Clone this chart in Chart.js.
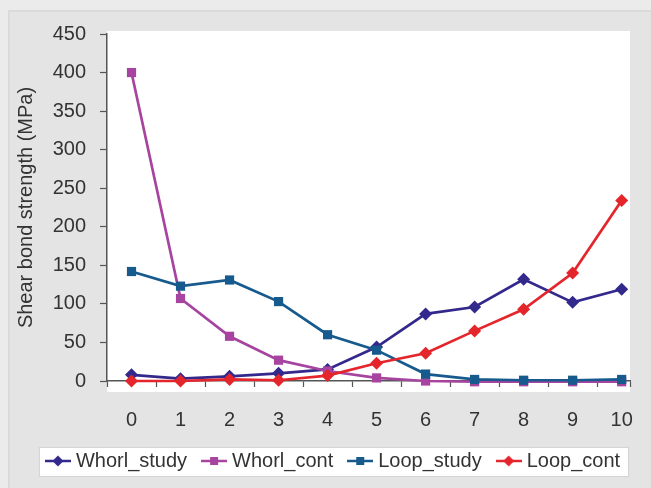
<!DOCTYPE html>
<html>
<head>
<meta charset="utf-8">
<script src="https://cdn.jsdelivr.net/npm/chart.js@4.4.0/dist/chart.umd.min.js"></script>
<style>
  html, body { margin: 0; padding: 0; background: #e6e6e6; }
  #wrap { width: 651px; height: 488px; }
</style>
</head>
<body>
<div id="wrap"><canvas id="chart" width="651" height="488"></canvas></div>
<script>
// x categories (0..10) and series values
const xValues = [0, 1, 2, 3, 4, 5, 6, 7, 8, 9, 10];
const whorlStudy = [8, 3, 6, 10, 15, 44, 87, 96, 132, 102, 119];
const whorlCont = [400, 107, 58, 27, 13, 4, 0, -1, -1, -1, -1];
const loopStudy = [142, 123, 131, 103, 60, 40, 9, 2, 1, 1, 2];
const loopCont = [0, 0, 2, 1, 7, 23, 36, 65, 93, 140, 234];

const seriesNames = ['Whorl_study', 'Whorl_cont', 'Loop_study', 'Loop_cont'];
const seriesColors = ['#33298c', '#a6449f', '#165a8e', '#e4262c'];
const seriesShapes = ['rectRot', 'rect', 'rect', 'rectRot'];
const yTicks = [0, 50, 100, 150, 200, 250, 300, 350, 400, 450];

const FONT = 'Arial, "Liberation Sans", Helvetica, sans-serif';

// little line + marker icons for the legend
function makeIcon(color, shape) {
    const c = document.createElement('canvas');
    c.width = 26;
    c.height = 14;
    const g = c.getContext('2d');
    g.strokeStyle = color;
    g.lineWidth = 2.5;
    g.beginPath();
    g.moveTo(0, 7);
    g.lineTo(26, 7);
    g.stroke();
    g.fillStyle = color;
    g.beginPath();
    if (shape === 'rect') {
        g.rect(9, 3, 8, 8);
    } else {
        g.moveTo(13, 1.5);
        g.lineTo(18.5, 7);
        g.lineTo(13, 12.5);
        g.lineTo(7.5, 7);
        g.closePath();
    }
    g.fill();
    return c;
}
const legendIcons = seriesColors.map((c, i) => makeIcon(c, seriesShapes[i]));

function toPoints(values) {
    return xValues.map((x, i) => ({ x: x, y: values[i] }));
}

const allSeries = [whorlStudy, whorlCont, loopStudy, loopCont];

// background panel, white plot area and white legend box
const backdrop = {
    id: 'backdrop',
    afterLayout(chart) {
        chart.legend.left += 20;
        chart.legend.right += 20;
    },
    beforeDraw(chart) {
        const ctx = chart.ctx;
        const a = chart.chartArea;
        ctx.save();
        ctx.fillStyle = '#ebebeb';
        ctx.fillRect(0, 0, chart.width, chart.height);
        ctx.fillStyle = '#e4e4e4';
        ctx.fillRect(8, 10, chart.width - 8, chart.height - 10);
        ctx.strokeStyle = '#dadada';
        ctx.lineWidth = 2;
        ctx.strokeRect(9, 11, chart.width, chart.height);

        ctx.fillStyle = '#ffffff';
        ctx.fillRect(a.left, a.top - 3, a.right - a.left, a.bottom - a.top + 14);

        const hb = chart.legend.legendHitBoxes;
        if (hb && hb.length) {
            const first = hb[0], last = hb[hb.length - 1];
            const x0 = first.left - 11;
            const x1 = last.left + last.width + 8;
            const y0 = first.top - 4;
            const y1 = first.top + 25;
            ctx.fillStyle = '#ffffff';
            ctx.fillRect(x0, y0, x1 - x0, y1 - y0);
            ctx.strokeStyle = '#d4d4d4';
            ctx.lineWidth = 1;
            ctx.strokeRect(x0 + 0.5, y0 + 0.5, x1 - x0, y1 - y0);
        }
        ctx.restore();
    }
};

new Chart(document.getElementById('chart'), {
    type: 'line',
    data: {
        datasets: allSeries.map((vals, i) => ({
            label: seriesNames[i],
            data: toPoints(vals),
            borderColor: seriesColors[i],
            backgroundColor: seriesColors[i],
            borderWidth: 2.7,
            pointStyle: seriesShapes[i],
            pointRadius: 6.5,
            pointBorderWidth: 0,
            pointHoverRadius: 6.5,
            tension: 0,
            clip: false,
            order: allSeries.length - i
        }))
    },
    options: {
        responsive: false,
        animation: false,
        layout: { padding: { top: 34, right: 21, bottom: 7, left: 0 } },
        plugins: {
            tooltip: { enabled: false },
            legend: {
                position: 'bottom',
                labels: {
                    usePointStyle: true,
                    pointStyleWidth: 16,
                    padding: 19,
                    color: '#333333',
                    font: { family: FONT, size: 20 },
                    sort: (a, b) => a.datasetIndex - b.datasetIndex,
                    generateLabels(chart) {
                        const items = Chart.defaults.plugins.legend.labels.generateLabels(chart);
                        items.forEach(it => { it.pointStyle = legendIcons[it.datasetIndex]; });
                        return items;
                    }
                }
            }
        },
        scales: {
            x: {
                type: 'linear',
                min: -0.5,
                max: 10.17,
                afterBuildTicks(scale) {
                    const t = [];
                    xValues.forEach(v => { t.push({ value: v - 0.5 }); t.push({ value: v }); });
                    t.push({ value: 10.17 });
                    scale.ticks = t;
                },
                afterFit(scale) { scale.height = 51; },
                border: { display: true, color: '#555555', width: 1.5 },
                grid: {
                    drawOnChartArea: false,
                    drawTicks: true,
                    tickLength: 6,
                    tickWidth: 1.2,
                    tickColor: ctx => (Number.isInteger(ctx.tick && ctx.tick.value) ? 'rgba(0,0,0,0)' : '#555555')
                },
                ticks: {
                    autoSkip: false,
                    maxRotation: 0,
                    padding: 21,
                    color: '#333333',
                    font: { family: FONT, size: 20 },
                    callback: v => (xValues.includes(v) ? String(v) : '')
                }
            },
            y: {
                min: 0,
                max: 450,
                afterBuildTicks(scale) {
                    scale.ticks = yTicks.map(v => ({ value: v }));
                },
                afterFit(scale) { scale.width = 107; },
                border: { display: true, color: '#555555', width: 1.5 },
                grid: {
                    drawOnChartArea: false,
                    drawTicks: true,
                    tickLength: 7,
                    tickWidth: 1.2,
                    tickColor: '#555555'
                },
                ticks: {
                    padding: 14,
                    color: '#333333',
                    font: { family: FONT, size: 20 }
                },
                title: {
                    display: true,
                    text: 'Shear bond strength (MPa)',
                    color: '#333333',
                    font: { family: FONT, size: 20 },
                    padding: { top: 14, bottom: 0 }
                }
            }
        }
    },
    plugins: [backdrop]
});
</script>
</body>
</html>
